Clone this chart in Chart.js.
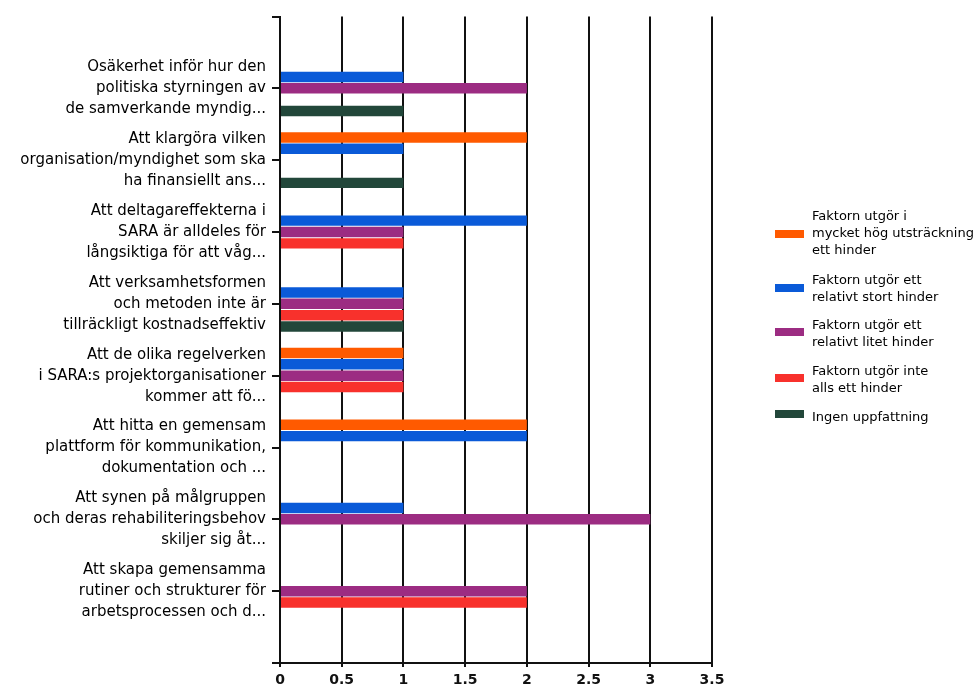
<!DOCTYPE html>
<html lang="sv">
<head>
    <meta charset="UTF-8">
    <title>Hinder i samverkan</title>
    <script src="https://cdn.jsdelivr.net/npm/chart.js"></script>
    <style>
        body {
            margin: 0;
            background: #ffffff;
            font-family: "DejaVu Sans", Arial, sans-serif;
        }
        .chart-wrap {
            position: relative;
            width: 980px;
            height: 694px;
        }
    </style>
</head>
<body>
    <div class="chart-wrap">
        <canvas id="hinderChart"></canvas>
    </div>

    <script>
        // Frågorna (varje rad i etiketten ritas som egen rad)
        const categories = [
            ["Osäkerhet inför hur den", "politiska styrningen av", "de samverkande myndig..."],
            ["Att klargöra vilken", "organisation/myndighet som ska", "ha finansiellt ans..."],
            ["Att deltagareffekterna i", "SARA är alldeles för", "långsiktiga för att våg..."],
            ["Att verksamhetsformen", "och metoden inte är", "tillräckligt kostnadseffektiv"],
            ["Att de olika regelverken", "i SARA:s projektorganisationer", "kommer att fö..."],
            ["Att hitta en gemensam", "plattform för kommunikation,", "dokumentation och ..."],
            ["Att synen på målgruppen", "och deras rehabiliteringsbehov", "skiljer sig åt..."],
            ["Att skapa gemensamma", "rutiner och strukturer för", "arbetsprocessen och d..."]
        ];

        const seriesNames = [
            ["Faktorn utgör i", "mycket hög utsträckning", "ett hinder"],
            ["Faktorn utgör ett", "relativt stort hinder"],
            ["Faktorn utgör ett", "relativt litet hinder"],
            ["Faktorn utgör inte", "alls ett hinder"],
            ["Ingen uppfattning"]
        ];

        const mycketHog   = [0, 2, 0, 0, 1, 2, 0, 0];
        const relStort    = [1, 1, 2, 1, 1, 2, 1, 0];
        const relLitet    = [2, 0, 1, 1, 1, 0, 3, 2];
        const inteAlls    = [0, 0, 1, 1, 1, 0, 0, 2];
        const ingenUppf   = [1, 1, 0, 1, 0, 0, 0, 0];

        const xTicks = [0, 0.5, 1, 1.5, 2, 2.5, 3, 3.5];

        const colors = ["#ff5a00", "#0a5ad8", "#9c2c82", "#f8312c", "#22473a"];

        // tom plats överst och nederst på kategoriaxeln
        const pad = arr => [null, ...arr, null];
        const labels = pad(categories).map(l => l || "");

        const seriesValues = [mycketHog, relStort, relLitet, inteAlls, ingenUppf];

        const datasets = seriesValues.map((vals, i) => ({
            label: seriesNames[i].join(" "),
            legendLines: seriesNames[i],
            data: pad(vals),
            backgroundColor: colors[i],
            borderWidth: 0,
            categoryPercentage: 0.79,
            barPercentage: 0.92
        }));

        // Förklaring till höger, ritad för hand så att texten kan brytas på flera rader
        const sideLegend = {
            id: "sideLegend",
            afterDraw(chart) {
                const ctx = chart.ctx;
                const entries = [
                    { y: 234, box: 234 }, { y: 289, box: 288 }, { y: 334, box: 332 },
                    { y: 380, box: 378 }, { y: 418, box: 414 }
                ];
                const lineH = 17;
                ctx.save();
                ctx.font = "13px 'DejaVu Sans', Arial, sans-serif";
                ctx.textBaseline = "middle";
                ctx.textAlign = "left";
                chart.data.datasets.forEach((ds, i) => {
                    const e = entries[i];
                    ctx.fillStyle = ds.backgroundColor;
                    ctx.fillRect(775, e.box - 4, 29, 8);
                    ctx.fillStyle = "#000";
                    const lines = ds.legendLines;
                    const startY = e.y - (lines.length - 1) * lineH / 2;
                    lines.forEach((t, k) => ctx.fillText(t, 812, startY + k * lineH));
                });
                ctx.restore();
            }
        };

        const ctx = document.getElementById("hinderChart").getContext("2d");
        new Chart(ctx, {
            type: "bar",
            data: { labels: labels, datasets: datasets },
            options: {
                indexAxis: "y",
                responsive: true,
                maintainAspectRatio: false,
                animation: false,
                layout: { padding: { top: 12, right: 268, left: 0, bottom: 0 } },
                plugins: {
                    legend: { display: false },
                    tooltip: { enabled: false }
                },
                scales: {
                    x: {
                        min: 0,
                        max: 3.5,
                        afterBuildTicks: scale => {
                            scale.ticks = xTicks.map(v => ({ value: v }));
                        },
                        ticks: {
                            color: "#111",
                            padding: 5,
                            callback: v => String(v),
                            font: { family: "'DejaVu Sans'", size: 14, weight: "bold" }
                        },
                        grid: {
                            color: "#111",
                            lineWidth: 2,
                            tickLength: 4
                        },
                        border: { color: "#111", width: 2 },
                        afterFit: scale => { scale.height = 31; }
                    },
                    y: {
                        offset: false,
                        ticks: {
                            color: "#000",
                            padding: 6,
                            autoSkip: false,
                            font: { family: "'DejaVu Sans'", size: 15, lineHeight: 1.4 }
                        },
                        grid: {
                            offset: false,
                            drawOnChartArea: false,
                            color: "#111",
                            lineWidth: 2,
                            tickLength: 8
                        },
                        border: { color: "#111", width: 2 },
                        afterFit: scale => { scale.width = 280; }
                    }
                }
            },
            plugins: [sideLegend]
        });
    </script>
</body>
</html>
